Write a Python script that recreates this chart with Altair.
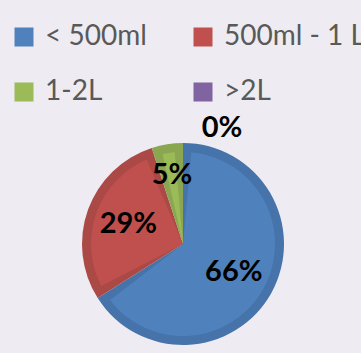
import altair as alt
import pandas as pd

categories = ["< 500ml", "500ml - 1 L", "1-2L", ">2L"]
values = [66, 29, 5, 0]
labels = ["66%", "29%", "5%", "0%"]
inner_colors = ["#4f81bd", "#c0504d", "#9bbb59", "#8064a2"]
outer_colors = ["#4673aa", "#ab4946", "#8ba650", "#725a91"]

df = pd.DataFrame({"category": categories, "value": values,
                   "label": labels, "idx": list(range(len(categories)))})

CX, CY = 183, 244

base = alt.Chart(df).encode(
    theta=alt.Theta("value:Q", stack=True),
    order=alt.Order("idx:Q"),
)

outer = base.mark_arc(outerRadius=101, x=CX, y=CY).encode(
    color=alt.Color("category:N",
                    scale=alt.Scale(domain=categories, range=outer_colors),
                    legend=None)
)

inner = base.mark_arc(outerRadius=92, padAngle=0.18, x=CX, y=CY).encode(
    color=alt.Color("category:N",
                    scale=alt.Scale(domain=categories, range=inner_colors),
                    legend=alt.Legend(
                        title=None, orient="none", legendX=10, legendY=23,
                        columns=2, direction="horizontal",
                        symbolType="square", symbolSize=361,
                        symbolStrokeWidth=0, symbolOpacity=1,
                        labelFontSize=28, labelFont="Lato", labelColor="#595959",
                        labelOffset=7, columnPadding=42, rowPadding=27,
                        padding=0, labelLimit=400))
)

# label positions: middle of each slice, via cumulative sum
lab = alt.Chart(df).transform_window(
    cum="sum(value)", sort=[alt.SortField("idx", order="ascending")],
    frame=[None, 0]
).transform_calculate(
    mid="datum.cum - datum.value / 2",
    r="datum.value < 10 ? 70 : 58"
)
theta_scale = alt.Scale(domain=[0, 100], range=[0, 6.283185307])

text = lab.mark_text(x=CX, y=CY, font="Lato", fontWeight="bold", fontSize=29,
                     color="#000000").encode(
    theta=alt.Theta("mid:Q", scale=theta_scale),
    radius=alt.Radius("r:Q", scale=None),
    text=alt.condition("datum.value > 0", "label:N", alt.value("")),
)

zero = lab.mark_text(
    x=CX, y=CY, radius=122, dx=39, dy=6, font="Lato", fontWeight="bold",
    fontSize=29, color="#000000").encode(
    theta=alt.Theta("mid:Q", scale=theta_scale),
    text=alt.condition("datum.value == 0", "label:N", alt.value("")))

chart = alt.layer(outer, inner, text, zero).resolve_scale(
    color="independent", theta="independent"
).properties(
    width=361, height=353, background="#eeecf2", padding=0,
    autosize=alt.AutoSizeParams(type="none")
).configure_view(stroke=None)

chart.save("out.html", embed_options={"renderer": "svg", "actions": False})
